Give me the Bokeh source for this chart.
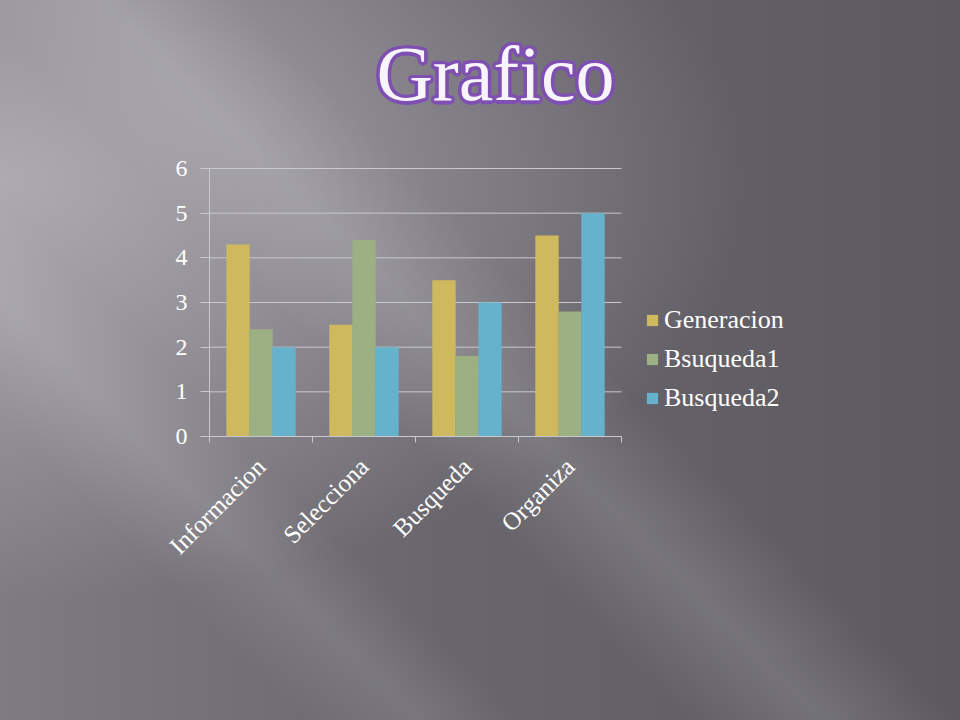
import numpy as np
from bokeh.plotting import figure
from bokeh.models import (ColumnDataSource, Range1d, FixedTicker, Legend, LegendItem,
                          InlineStyleSheet)
from bokeh.core.properties import value
from bokeh.embed import file_html
from bokeh.resources import INLINE

# ---- data ----
categories = ["Informacion", "Selecciona", "Busqueda", "Organiza"]
generacion = [4.3, 2.5, 3.5, 4.5]
bsuqueda1 = [2.4, 4.4, 1.8, 2.8]
busqueda2 = [2.0, 2.0, 3.0, 5.0]
series_names = ["Generacion", "Bsuqueda1", "Busqueda2"]
series_colors = ["#CFB95F", "#9CB083", "#66B2CD"]
y_ticks = [0, 1, 2, 3, 4, 5, 6]
title_text = "Grafico"

FONT = "Liberation Serif"
AXIS_COLOR = "#c9c8cc"
W, H = 960, 720
LEFT, RIGHT, TOP, BOTTOM = 209, 60, 0, 284
PLOT_W, PLOT_H = 412, 268          # size of the bar area in px
FRAME_W = W - LEFT - RIGHT         # frame also hosts legend and title
FRAME_H = H - TOP - BOTTOM
Y_MAX = y_ticks[-1]
PX_X = PLOT_W / len(categories)    # px per category
PX_Y = PLOT_H / Y_MAX              # px per unit

p = figure(width=W, height=H, output_backend="svg", toolbar_location=None,
           x_range=Range1d(0, FRAME_W / PX_X),
           y_range=Range1d(y_ticks[0], FRAME_H / PX_Y),
           min_border_left=LEFT, min_border_right=RIGHT, min_border_top=TOP,
           min_border_bottom=BOTTOM)
p.outline_line_color = None
p.background_fill_alpha = 0
p.border_fill_alpha = 0
p.stylesheets = [InlineStyleSheet(css="""
:host {
  background:
    linear-gradient(45deg,
      rgba(255,255,255,0) 18%, rgba(255,255,255,0.10) 25%, rgba(255,255,255,0) 31%,
      rgba(255,255,255,0) 41%, rgba(255,255,255,0.13) 49%, rgba(255,255,255,0) 57%),
    radial-gradient(ellipse at 0% 25%, rgba(178,176,182,0.9) 0%, rgba(178,176,182,0) 55%),
    linear-gradient(to right, #7e7c82 0%, #69676d 45%, #5c5a60 100%);
}
""")]

# horizontal grid lines limited to the category area
p.segment(x0=0, x1=len(categories), y0=y_ticks, y1=y_ticks,
          line_color=AXIS_COLOR, line_width=1)

# bars
centers = np.arange(len(categories)) + 0.5
bar_w = 0.2233
renderers = []
for i, (vals, color) in enumerate(zip([generacion, bsuqueda1, busqueda2], series_colors)):
    src = ColumnDataSource(dict(x=centers + (i - 1) * bar_w, top=vals))
    r = p.vbar(x="x", top="top", width=bar_w * 1.015, bottom=0, source=src,
               fill_color=color, line_color=None)
    renderers.append(r)

# x axis: labels at centers, tick marks at category boundaries
p.xaxis.bounds = (0, len(categories))
p.xaxis.ticker = FixedTicker(ticks=list(centers),
                             minor_ticks=list(np.arange(len(categories) + 1)))
p.xaxis.major_label_overrides = {float(c): name for c, name in zip(centers, categories)}
p.xaxis.major_tick_line_color = None
p.xaxis.minor_tick_line_color = AXIS_COLOR
p.xaxis.minor_tick_in = 0
p.xaxis.minor_tick_out = 6
p.xaxis.axis_line_color = AXIS_COLOR
p.xaxis.major_label_orientation = np.pi / 4
p.xaxis.major_label_standoff = 20
p.xaxis.major_label_text_font = FONT
p.xaxis.major_label_text_font_size = "25px"
p.xaxis.major_label_text_color = "white"
p.grid.visible = False

# y axis
p.yaxis.bounds = (y_ticks[0], y_ticks[-1])
p.yaxis.ticker = FixedTicker(ticks=y_ticks)
p.yaxis.minor_tick_line_color = None
p.yaxis.major_tick_in = 0
p.yaxis.major_tick_out = 9
p.yaxis.major_tick_line_color = AXIS_COLOR
p.yaxis.axis_line_color = AXIS_COLOR
p.yaxis.major_label_standoff = 13
p.yaxis.major_label_text_font = FONT
p.yaxis.major_label_text_font_size = "24px"
p.yaxis.major_label_text_color = "white"

# legend inside the (wide) frame, to the right of the bars
legend = Legend(items=[LegendItem(label=n, renderers=[r]) for n, r in zip(series_names, renderers)],
                location=(436, 23), orientation="vertical",
                glyph_width=14, glyph_height=14, label_standoff=5,
                spacing=9, padding=0, margin=0,
                border_line_color=None, background_fill_alpha=0,
                label_text_font=FONT, label_text_font_size="26px",
                label_text_color="white")
p.add_layout(legend, "center")

# title: white text with a purple outline (purple copies around, white on top)
TITLE_X = (495 - LEFT) / PX_X
TITLE_Y = (436 - 73) / PX_Y
ang = np.linspace(0, 2 * np.pi, 12, endpoint=False)
rad = 3.5
ox = list(np.round(rad * np.cos(ang), 2))
oy = list(np.round(rad * np.sin(ang), 2))
n = len(ox)
p.text(x=[TITLE_X] * n, y=[TITLE_Y] * n, text=[title_text] * n,
       x_offset=ox, y_offset=oy,
       text_align="center", text_baseline="alphabetic",
       text_font=value(FONT), text_font_size="78px", text_color="#7f4fb2")
p.text(x=[TITLE_X], y=[TITLE_Y], text=[title_text],
       text_align="center", text_baseline="alphabetic",
       text_font=value(FONT), text_font_size="78px", text_color="#f8f4fc")

open("out.html", "w").write(file_html(p, INLINE))
